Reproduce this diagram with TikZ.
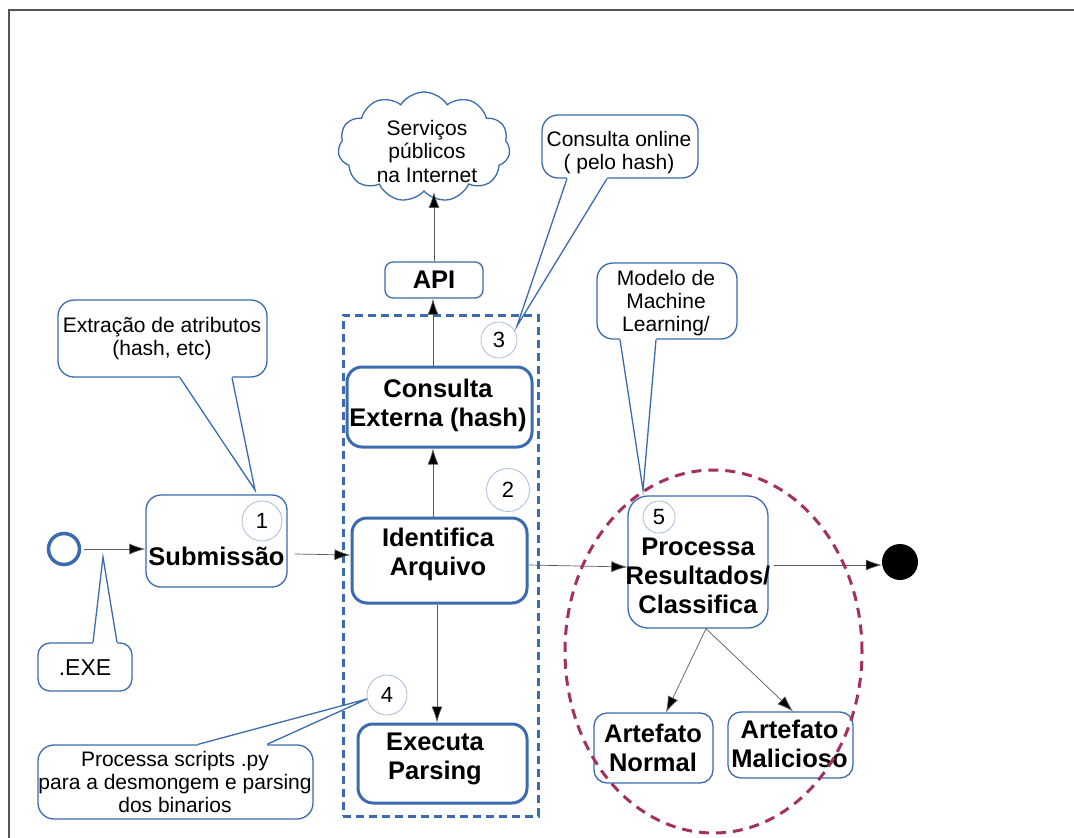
\documentclass[tikz,border=0pt]{standalone}
\usepackage{fontspec}
\setmainfont{Liberation Sans}
\usetikzlibrary{arrows.meta,shapes.symbols,shapes.geometric}
\definecolor{boxblue}{HTML}{3B6AAE}
\definecolor{numblue}{HTML}{A9BCDC}
\definecolor{grouped}{HTML}{A3305E}
\definecolor{framegray}{HTML}{555555}

% tail of a speech-bubble note: node, anchor, two base offsets, tip, inward shift
\newcommand\calloutTail[6]{%
  \fill[white] ([xshift=#3pt,yshift=#6pt]#1.#2) -- ([xshift=#3pt]#1.#2) -- (#5)
     -- ([xshift=#4pt]#1.#2) -- ([xshift=#4pt,yshift=#6pt]#1.#2) -- cycle;
  \draw[notestroke] ([xshift=#3pt]#1.#2) -- (#5) -- ([xshift=#4pt]#1.#2);}

\begin{document}
\begin{tikzpicture}[x=1pt,y=-1pt,
  thinbox/.style={draw=boxblue, line width=1.3pt, rounded corners=15pt, fill=white, inner sep=0pt},
  thickbox/.style={draw=boxblue, line width=3pt, rounded corners=15pt, fill=white, inner sep=0pt},
  bigtext/.style={font=\fontsize{25.5}{29}\selectfont\bfseries, align=center, inner sep=0pt},
  notetext/.style={font=\fontsize{21}{23}\selectfont, align=center, inner sep=0pt},
  numcirc/.style={circle, draw=numblue, line width=0.8pt, fill=white, inner sep=0pt,
                  font=\fontsize{22}{22}\selectfont},
  note/.style={draw=boxblue, line width=1.3pt, rounded corners=16pt, fill=white, inner sep=0pt},
  notestroke/.style={draw=boxblue, line width=1.3pt},
  flow/.style={draw=black!65, line width=0.7pt, -{Latex[length=16pt,width=11pt,fill=black]}},
  grpbox/.style={draw=boxblue, line width=3pt, dash pattern=on 8pt off 5pt, inner sep=0pt},
]
\useasboundingbox (0,0) rectangle (1074,838);

% page frame
\draw[framegray, line width=1.5pt] (1074,10) -- (9,10) -- (9,838);

% group of the analysis steps
\node[grpbox, minimum width=195pt, minimum height=501pt] (grp) at (440.5,565.5) {};

% start / end events
\node[circle, draw=boxblue, line width=3.5pt, minimum size=31pt, inner sep=0pt] (start) at (64,549) {};
\node[circle, fill=black, minimum size=36pt, inner sep=0pt] (end) at (900,562) {};

% activities
\node[thinbox, minimum width=141pt, minimum height=92pt] (sub) at (216.5,541) {};
\node[bigtext] (subt) at (216.5,556) {Submissão};

\node[thickbox, minimum width=175pt, minimum height=85pt] (ident) at (439.5,560.5) {};
\node[bigtext] (identt) at (438,554) {Identifica\\Arquivo};

\node[thickbox, minimum width=185pt, minimum height=80pt] (cons) at (439.5,407) {};
\node[bigtext] (const) at (438,405) {Consulta\\Externa (hash)};

\node[thinbox, rounded corners=8pt, minimum width=98pt, minimum height=36pt, bigtext] (api) at (434,280) {API};

\node[thickbox, minimum width=169pt, minimum height=79pt] (exec) at (442.5,763.5) {};
\node[bigtext] (exect) at (435,758.5) {Executa\\Parsing};

\node[thinbox, rounded corners=20pt, minimum width=140pt, minimum height=132pt] (proc) at (698,562) {};
\node[bigtext] (proct) at (698,576) {Processa\\Resultados/\\Classifica};

\node[thinbox, rounded corners=13pt, minimum width=119pt, minimum height=70pt] (norm) at (653.5,748) {};
\node[bigtext] (normt) at (653,747.5) {Artefato\\Normal};

\node[thinbox, rounded corners=13pt, minimum width=125pt, minimum height=66pt] (mal) at (790.5,745) {};
\node[bigtext] (malt) at (789.5,743.5) {Artefato\\Malicioso};

% internet services
\node[cloud, draw=boxblue, line width=1.3pt, cloud puffs=11, cloud puff arc=115, aspect=1.6,
      minimum width=172pt, minimum height=110pt, inner sep=0pt] (cloud) at (424,147) {};
\node[notetext, font=\fontsize{21}{23.5}\selectfont] (cloudt) at (427,151) {Serviços\\públicos\\na Internet};

% step numbers
\node[numcirc, minimum size=40pt] (n1) at (262,521) {1};
\node[numcirc, minimum size=43pt] (n2) at (508,490) {2};
\node[numcirc, minimum size=36pt] (n3) at (499,340) {3};
\node[numcirc, minimum size=40pt] (n4) at (387,695) {4};
\node[numcirc, minimum size=32pt] (n5) at (659,517) {5};

% flow
\draw[flow] ([xshift=3pt]start.east) -- (start.east -| sub.west);
\draw[flow] ([xshift=7pt,yshift=-13pt]sub.east) -- ([yshift=5.5pt]ident.west);
\draw[flow] ([xshift=-6.5pt]ident.north) -- ([xshift=-6.5pt]cons.south);
\draw[flow] ([xshift=-6.5pt]cons.north) -- ([xshift=-1pt]api.south);
\draw[flow] (api.north) -- (api.north |- cloud.south);
\draw[flow] ([xshift=-2.5pt]ident.south) -- ([xshift=-5.5pt]exec.north);
\draw[flow] ([yshift=-4.5pt]ident.east) -- ([yshift=-5pt]proc.west);
\draw[flow] ([xshift=5pt,yshift=-3pt]proc.east) -- ([yshift=-3pt]end.west);
\draw[flow] ([xshift=8pt]proc.south) -- ([xshift=12.5pt]norm.north);
\draw[flow] ([xshift=8pt]proc.south) -- ([xshift=2.5pt]mal.north);

% classification group
\node[ellipse, draw=grouped, line width=3pt, dash pattern=on 10pt off 7pt,
      minimum width=297pt, minimum height=363pt, inner sep=0pt] (cls) at (713.5,651.5) {};

% notes
\node[note, minimum width=209pt, minimum height=77pt] (c1) at (162.5,338.5) {};
\node[notetext] (c1t) at (162,339) {Extração de atributos\\(hash, etc)};
\coordinate (c1tip) at (255,490);
\calloutTail{c1}{south}{17.5}{69.5}{c1tip}{2}

\node[note, rounded corners=12pt, minimum width=94pt, minimum height=48pt] (c2) at (85,667) {};
\node[notetext, font=\fontsize{23}{23}\selectfont] (c2t) at (85,667.5) {.EXE};
\coordinate (c2tip) at (103,557);
\calloutTail{c2}{north}{8}{32}{c2tip}{-2}

\node[note, minimum width=156pt, minimum height=63pt] (c3) at (620,146.5) {};
\node[notetext] (c3t) at (619,153) {Consulta online\\( pelo hash)};
\coordinate (c3tip) at (517,326);
\calloutTail{c3}{south}{-53}{-13}{c3tip}{2}

\node[note, minimum width=140pt, minimum height=76pt] (c4) at (667,301) {};
\node[notetext] (c4t) at (666,303) {Modelo de\\Machine\\Learning/};
\coordinate (c4tip) at (643,490);
\calloutTail{c4}{south}{-47}{-11}{c4tip}{2}

\node[note, minimum width=275pt, minimum height=74pt] (c5) at (175.5,782) {};
\node[notetext] (c5t) at (175,781.5) {Processa scripts .py\\para a desmongem e parsing\\dos binarios};
\coordinate (c5tip) at (367,699);
\calloutTail{c5}{north}{22.5}{91.5}{c5tip}{-2}

\end{tikzpicture}
\end{document}
